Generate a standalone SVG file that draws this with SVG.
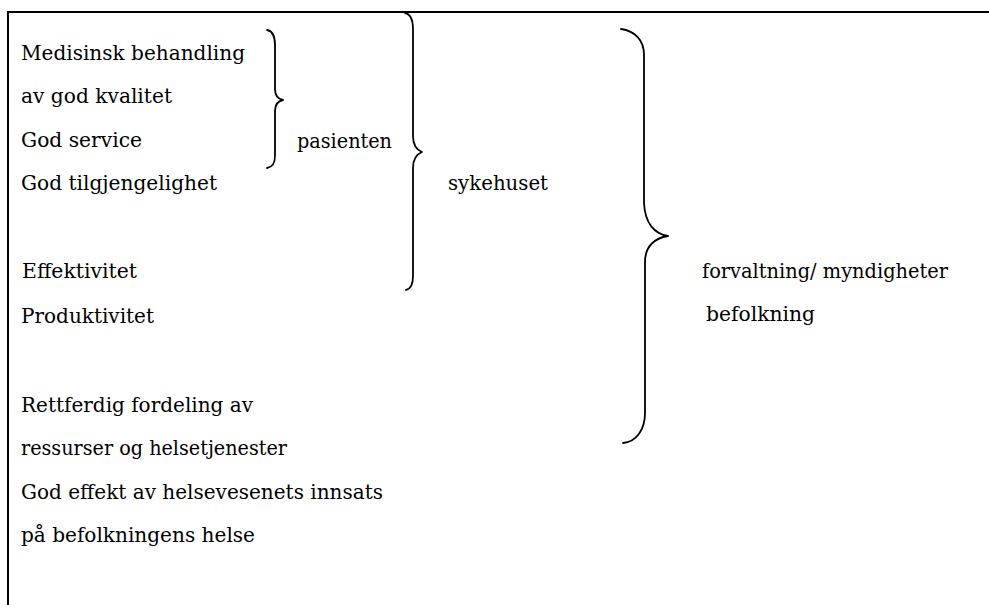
<svg xmlns="http://www.w3.org/2000/svg" width="989" height="605" viewBox="0 0 989 605">
<style>
text{font-family:'DejaVu Serif','Liberation Serif',serif;font-size:21px;fill:#000}
.frame{stroke:#000;stroke-width:2;fill:none}
.brace{stroke:#000;stroke-width:1.8;fill:none;stroke-linecap:round;stroke-linejoin:round}
</style>
<rect width="989" height="605" fill="#fff"/>
<g id="frame">
<line class="frame" x1="7" y1="12" x2="989" y2="12"/>
<line class="frame" x1="8" y1="11" x2="8" y2="605"/>
</g>
<g id="items">
<text x="21" y="60" textLength="224" lengthAdjust="spacingAndGlyphs">Medisinsk behandling</text>
<text x="21" y="103" textLength="151" lengthAdjust="spacingAndGlyphs">av god kvalitet</text>
<text x="21" y="147" textLength="121" lengthAdjust="spacingAndGlyphs">God service</text>
<text x="21" y="190" textLength="196" lengthAdjust="spacingAndGlyphs">God tilgjengelighet</text>
<text x="22" y="278" textLength="115" lengthAdjust="spacingAndGlyphs">Effektivitet</text>
<text x="21" y="323" textLength="133" lengthAdjust="spacingAndGlyphs">Produktivitet</text>
<text x="21" y="412" textLength="232" lengthAdjust="spacingAndGlyphs">Rettferdig fordeling av</text>
<text x="21" y="455" textLength="266" lengthAdjust="spacingAndGlyphs">ressurser og helsetjenester</text>
<text x="21" y="499" textLength="362" lengthAdjust="spacingAndGlyphs">God effekt av helsevesenets innsats</text>
<text x="21" y="542" textLength="234" lengthAdjust="spacingAndGlyphs">på befolkningens helse</text>
</g>
<g id="pasienten">
<text x="297" y="148" textLength="95" lengthAdjust="spacingAndGlyphs">pasienten</text>
</g>
<g id="sykehuset">
<text x="448" y="190" textLength="100" lengthAdjust="spacingAndGlyphs">sykehuset</text>
</g>
<g id="forvaltning">
<text x="702" y="278" textLength="246" lengthAdjust="spacingAndGlyphs">forvaltning/ myndigheter</text>
<text x="706" y="321" textLength="109" lengthAdjust="spacingAndGlyphs">befolkning</text>
</g>
<g id="connectors">
<path class="brace" d="M267,30 C273,31 275,36 275,45 L275,89 C275,96 278,99 283,100 C278,101 275,104 275,111 L275,155 C275,163 273,167 267,168"/>
<path class="brace" d="M405,13 C411,14 413,20 413,30 L413,136 C413,146 417,150 422,152 C417,154 413,158 413,168 L413,276 C413,285 411,289 406,290"/>
<path class="brace" d="M621,29 C635,31 644,40 644,55 L644,203 C645,224 655,234 668,236 C655,238 645,246 645,262 L645,413 C645,430 636,442 623,443"/>
</g>
</svg>
